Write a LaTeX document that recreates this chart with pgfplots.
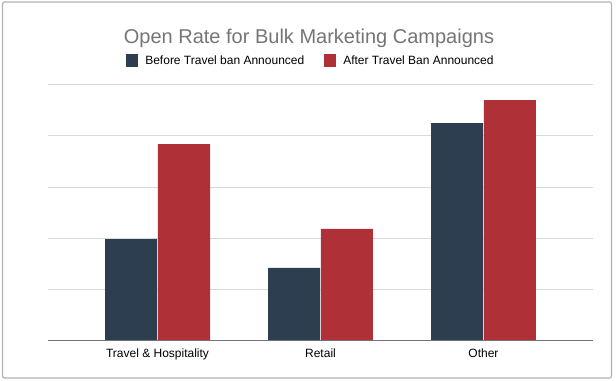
\documentclass[border=0pt]{standalone}
\usepackage{fontspec}
\setmainfont{Liberation Sans}
\usepackage{pgfplots}
\pgfplotsset{compat=1.18}
\definecolor{navy}{HTML}{2C3E50}
\definecolor{brick}{HTML}{B03038}
\definecolor{titlegray}{HTML}{757575}
\begin{document}
\begin{tikzpicture}
\path[use as bounding box] (0bp,0bp) rectangle (616bp,381bp);
\draw[color=black!30, line width=1.2bp, rounded corners=2bp] (2.5bp,3bp) rectangle (611.5bp,379bp);
\node[text=titlegray, font=\fontsize{20bp}{24bp}\selectfont] at (309bp,343bp) {Open Rate for Bulk Marketing Campaigns};
\begin{axis}[at={(48bp,40.5bp)}, anchor=south west, scale only axis,
  width=545bp, height=255.8bp,
  xmin=-0.672, xmax=2.672, ymin=0, ymax=5,
  ybar, bar width=0.32,
  xtick={0,1,2}, xticklabels={Travel \& Hospitality, Retail, Other},
  ytick={1,2,3,4,5}, yticklabels={},
  major tick length=0, ymajorgrids,
  grid style={color=black!15, line width=0.8bp},
  axis line style={draw=none},
  tick label style={font=\fontsize{12bp}{14bp}\selectfont, text=black},
  xticklabel style={yshift=-5bp},
  legend columns=2,
  legend style={at={(axis description cs:0.4825,1.094)}, anchor=center,
    draw=none, fill=none, font=\fontsize{12bp}{14bp}\selectfont,
    /tikz/every odd column/.append style={column sep=5bp},
    /tikz/every even column/.append style={column sep=18bp}},
  legend image code/.code={\fill[#1] (0bp,-6.5bp) rectangle (12bp,6.5bp);},
]
\addplot[fill=navy, draw=none, bar shift=-0.162] coordinates {(0,1.98) (1,1.42) (2,4.25)};
\addlegendentry{Before Travel ban Announced}
\addplot[fill=brick, draw=none, bar shift=0.162] coordinates {(0,3.84) (1,2.18) (2,4.70)};
\addlegendentry{After Travel Ban Announced}
\draw[color=black!55, line width=1.3bp] (rel axis cs:0,0) -- (rel axis cs:1,0);
\end{axis}
\end{tikzpicture}
\end{document}
